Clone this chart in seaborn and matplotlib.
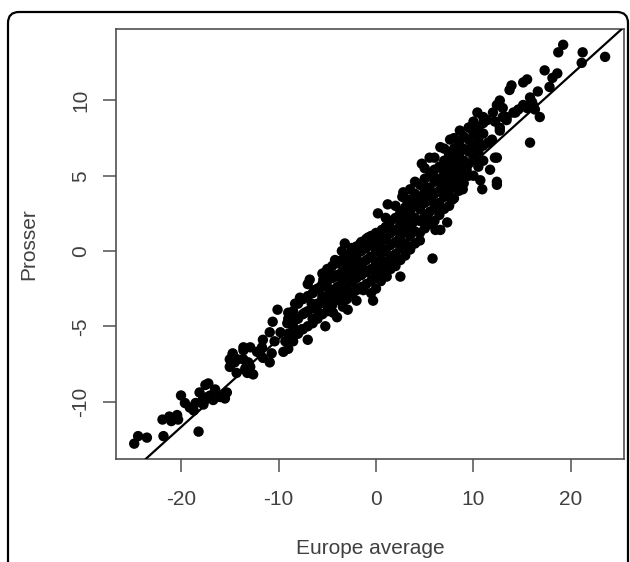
import matplotlib
matplotlib.use("Agg")
import matplotlib.pyplot as plt
import seaborn as sns
import pandas as pd
from matplotlib.patches import FancyBboxPatch
from matplotlib.transforms import IdentityTransform

# ---- data (Europe average, Prosser) ----
tail_low = [(-24.8, -12.8), (-24.4, -12.3), (-23.5, -12.4), (-21.8, -12.3), (-21.9, -11.2),
            (-21.2, -11.0), (-21.0, -11.3), (-20.4, -10.9), (-20.3, -11.2), (-20.0, -9.6),
            (-19.6, -10.1), (-19.1, -10.4), (-18.7, -10.6), (-18.2, -12.0), (-18.1, -9.4),
            (-17.5, -8.9), (-17.2, -8.8), (-17.8, -9.9), (-17.3, -9.7), (-17.7, -10.2),
            (-17.0, -9.6), (-16.5, -9.2), (-16.7, -9.9), (-16.0, -9.7), (-15.5, -9.8),
            (-15.3, -9.4), (-18.5, -10.1), (-15.0, -7.7), (-14.7, -6.9), (-14.2, -7.2),
            (-13.6, -6.6), (-13.4, -7.8), (-13.1, -7.4), (-13.2, -8.1)]

lower_mid = [(-14.7, -6.8), (-14.5, -7.4), (-13.6, -6.4), (-13.6, -7.2), (-13.4, -7.9),
             (-12.9, -7.7), (-12.6, -8.2), (-12.9, -6.4), (-12.2, -6.7), (-11.7, -6.4),
             (-11.6, -7.1), (-10.9, -7.4), (-10.7, -6.8), (-10.4, -6.0), (-10.6, -4.7),
             (-10.1, -3.9), (-9.8, -5.4), (-9.5, -6.7), (-9.3, -6.0), (-9.1, -4.8),
             (-9.0, -4.1), (-8.6, -5.6), (-8.3, -3.5), (-8.1, -4.5), (-7.8, -3.1),
             (-7.6, -5.2), (-7.3, -4.1), (-7.0, -5.9), (-6.8, -1.9), (-6.6, -3.5),
             (-6.5, -4.8), (-6.3, -2.6), (-5.9, -4.1), (-5.5, -3.0), (-5.4, -1.9),
             (-5.2, -5.0), (-4.9, -3.7), (-4.7, -1.5), (-4.4, -2.6), (-4.0, -4.4),
             (-3.9, -0.8), (-3.7, -3.3), (-3.2, -1.9), (-2.9, -3.9), (-2.5, -1.3),
             (-2.4, -2.8), (-2.0, -0.8), (-15.0, -7.2), (-14.3, -8.1), (-10.9, -5.4),
             (-11.6, -5.9)]

center = [(-5.4, -1.5), (-5.0, -2.4), (-4.7, -3.3), (-4.2, -0.6), (-4.0, -1.7),
          (-3.7, -2.6), (-3.2, 0.5), (-3.4, -3.7), (-2.9, -1.1), (-2.5, -0.1),
          (-2.4, -2.1), (-2.0, -3.3), (-1.6, 0.5), (-1.4, -1.1), (-1.3, -2.6),
          (-0.8, 0.9), (-0.6, -0.4), (-0.4, -1.9), (-0.3, -3.3), (0.2, 2.5),
          (0.6, 1.4), (0.7, 0.1), (1.1, -1.7), (1.2, 3.1), (1.4, 1.6),
          (1.7, -0.8), (2.3, 0.7), (2.5, -1.7), (2.7, 3.6), (2.8, 2.3),
          (3.2, 1.4), (3.5, 0.1), (3.8, 3.2), (4.0, 2.1), (4.5, 0.7),
          (4.8, 3.6), (5.2, 1.9), (5.8, -0.5), (6.3, 2.9), (6.6, 1.4),
          (7.1, 3.9), (-5.7, -2.4), (-5.7, -3.5), (-4.4, -4.1)]

upper_mid = [(2.8, 3.9), (3.3, 2.7), (3.5, 4.1), (3.8, 1.9), (4.3, 3.2), (4.7, 5.8),
             (4.8, 4.5), (5.2, 2.3), (5.5, 6.2), (5.7, 3.6), (5.8, 5.2), (6.1, 1.4),
             (6.4, 2.7), (6.6, 6.9), (6.8, 4.3), (7.1, 5.8), (7.3, 1.9), (7.6, 7.4),
             (7.8, 3.4), (8.1, 4.9), (8.4, 6.2), (8.6, 8.0), (8.9, 4.1), (9.3, 5.4),
             (9.6, 8.2), (9.8, 6.9), (10.2, 6.0), (10.5, 7.6), (10.7, 4.7), (10.9, 4.1),
             (11.0, 8.9), (11.5, 7.2), (11.7, 5.4), (12.0, 9.2), (12.2, 6.2), (12.4, 4.6),
             (12.4, 4.4), (12.7, 8.2), (13.4, 8.9), (14.1, 9.2), (10.4, 9.2), (11.4, 8.7),
             (15.8, 7.2)]

tail_high = [(19.2, 13.7), (18.7, 13.2), (21.2, 13.2), (21.1, 12.5), (23.5, 12.9),
             (17.3, 12.0), (18.6, 11.8), (18.1, 11.5), (17.8, 10.9), (15.5, 11.4),
             (15.1, 11.2), (13.9, 11.0), (13.7, 10.7), (16.6, 10.6), (15.8, 10.2),
             (16.0, 9.9), (12.7, 10.0), (12.4, 9.7), (13.0, 9.5), (14.6, 9.4),
             (15.1, 9.7), (15.5, 9.5), (16.1, 9.7), (16.3, 9.4), (16.8, 8.9),
             (13.0, 8.9), (14.3, 9.2), (12.2, 8.6), (13.4, 8.7), (12.7, 8.0),
             (12.4, 6.2), (11.9, 7.4)]

core = [(-9.0, -6.5), (-9.0, -5.5), (-9.0, -4.5), (-8.5, -6.0), (-8.5, -5.0), (-8.5, -4.0),
        (-8.0, -5.5), (-8.0, -4.5), (-8.0, -3.5), (-7.5, -5.2), (-7.5, -4.2), (-7.5, -3.2),
        (-7.0, -5.0), (-7.0, -4.0), (-7.0, -3.0), (-7.0, -2.2), (-6.5, -4.5), (-6.5, -3.8),
        (-6.5, -2.8), (-6.0, -4.5), (-6.0, -3.5), (-6.0, -2.5), (-5.5, -4.2), (-5.5, -3.2),
        (-5.5, -2.2), (-5.5, -1.5), (-5.0, -4.0), (-5.0, -3.0), (-5.0, -2.0), (-5.0, -1.2),
        (-4.5, -3.6), (-4.5, -2.8), (-4.5, -1.8), (-4.5, -1.0), (-4.0, -3.2), (-4.0, -2.4),
        (-4.0, -1.6), (-4.0, -0.8), (-3.5, -3.0), (-3.5, -2.2), (-3.5, -1.4), (-3.5, -0.6),
        (-3.5, 0.0), (-3.0, -3.2), (-3.0, -2.5), (-3.0, -1.8), (-3.0, -1.0), (-3.0, -0.3),
        (-2.5, -2.8), (-2.5, -2.0), (-2.5, -1.5), (-2.5, -0.6), (-2.5, 0.2), (-2.0, -2.6),
        (-2.0, -1.8), (-2.0, -1.2), (-2.0, -0.4), (-2.0, 0.3), (-1.5, -2.4), (-1.5, -1.6),
        (-1.5, -0.8), (-1.5, 0.0), (-1.5, 0.6), (-1.0, -2.2), (-1.0, -1.4), (-1.0, -0.6),
        (-1.0, 0.2), (-1.0, 0.8), (-0.5, -2.8), (-0.5, -2.0), (-0.5, -1.2), (-0.5, -0.4),
        (-0.5, 0.4), (-0.5, 1.0), (0.0, -2.5), (0.0, -1.6), (0.0, -0.8), (0.0, 0.0),
        (0.0, 0.6), (0.0, 1.2), (0.5, -2.0), (0.5, -1.2), (0.5, -0.5), (0.5, 0.3),
        (0.5, 1.0), (1.0, -1.6), (1.0, -0.8), (1.0, 0.0), (1.0, 0.8), (1.0, 1.6),
        (1.0, 2.2), (1.5, -1.2), (1.5, -0.4), (1.5, 0.4), (1.5, 1.2), (1.5, 2.0),
        (2.0, -1.0), (2.0, -0.2), (2.0, 0.6), (2.0, 1.4), (2.0, 2.2), (2.0, 3.0),
        (2.5, -0.6), (2.5, 0.2), (2.5, 1.0), (2.5, 1.8), (2.5, 2.6), (3.0, -0.3),
        (3.0, 0.5), (3.0, 1.3), (3.0, 2.1), (3.0, 2.9), (3.0, 3.5), (3.5, 0.2),
        (3.5, 1.0), (3.5, 1.8), (3.5, 2.6), (3.5, 3.4), (4.0, 0.5), (4.0, 1.3),
        (4.0, 2.2), (4.0, 3.0), (4.0, 3.8), (4.0, 4.6), (4.5, 1.2), (4.5, 2.0),
        (4.5, 2.8), (4.5, 3.6), (4.5, 4.4), (5.0, 1.5), (5.0, 2.4), (5.0, 3.2),
        (5.0, 4.0), (5.0, 4.8), (5.0, 5.5), (5.5, 1.8), (5.5, 2.6), (5.5, 3.4),
        (5.5, 4.2), (5.5, 5.0), (6.0, 2.0), (6.0, 3.0), (6.0, 3.8), (6.0, 4.6),
        (6.0, 5.4), (6.0, 6.2), (6.5, 2.4), (6.5, 3.2), (6.5, 4.0), (6.5, 4.8),
        (6.5, 5.6), (7.0, 2.8), (7.0, 3.6), (7.0, 4.4), (7.0, 5.2), (7.0, 6.0),
        (7.0, 6.8), (7.5, 3.0), (7.5, 4.0), (7.5, 4.8), (7.5, 5.6), (7.5, 6.4),
        (8.0, 3.5), (8.0, 4.4), (8.0, 5.2), (8.0, 6.0), (8.0, 6.8), (8.0, 7.5),
        (8.5, 4.0), (8.5, 4.8), (8.5, 5.6), (8.5, 6.4), (8.5, 7.2), (9.0, 4.5),
        (9.0, 5.2), (9.0, 6.0), (9.0, 6.8), (9.0, 7.6), (9.5, 5.0), (9.5, 5.8),
        (9.5, 6.6), (9.5, 7.4), (9.5, 8.2), (10.0, 5.0), (10.0, 6.2), (10.0, 7.0),
        (10.0, 7.8), (10.0, 8.6), (10.5, 5.6), (10.5, 6.6), (10.5, 7.4), (10.5, 8.2),
        (11.0, 6.0), (11.0, 7.0), (11.0, 7.8), (11.0, 8.5)]

line_intercept = 0.0
line_slope = 0.585
x_ticks = [-20, -10, 0, 10, 20]
y_ticks = [-10, -5, 0, 5, 10]
x_label = "Europe average"
y_label = "Prosser"

# ---- styling ----
sns.set_style("white")
plt.rcParams['font.family'] = ['Liberation Sans', 'DejaVu Sans']
plt.rcParams['axes.unicode_minus'] = False

W, H = 630, 562
fig = plt.figure(figsize=(W / 100, H / 100), dpi=100)
ax = fig.add_axes([116 / W, 103 / H, 508 / W, 430 / H])

pts = pd.DataFrame(tail_low + lower_mid + center + upper_mid + tail_high + core,
                   columns=[x_label, y_label])
sns.scatterplot(data=pts, x=x_label, y=y_label, color='black', s=56,
                edgecolor='none', linewidth=0, ax=ax, zorder=3)

ax.set_xlim(-26.67, 25.44)
ax.set_ylim(-13.82, 14.75)
ax.axline((0, line_intercept), slope=line_slope, color='black', lw=1.6, zorder=4)

grey = '#505050'
for sp in ax.spines.values():
    sp.set_color(grey)
    sp.set_linewidth(1.2)
ax.set_xticks(x_ticks)
ax.set_yticks(y_ticks)
ax.tick_params(axis='both', direction='out', length=9.4, width=1.1, color=grey,
               labelsize=15, labelcolor='#404040')
ax.tick_params(axis='x', pad=13, bottom=True)
ax.tick_params(axis='y', pad=9, left=True, labelrotation=90)
for t in ax.get_yticklabels():
    t.set_va('center')

ax.set_xlabel(x_label, fontsize=15, color='#404040', va='center')
ax.set_ylabel(y_label, fontsize=15, color='#404040', va='center')
ax.xaxis.set_label_coords(0.5, (459 - 549) / 430)
ax.yaxis.set_label_coords((29 - 116) / 508, 0.5)
ax.grid(False)

# rounded outer frame (bottom edge lies outside the image)
frame = FancyBboxPatch((8, -30), 620, H - 12 + 30,
                       boxstyle="round,pad=0,rounding_size=11",
                       transform=IdentityTransform(), fill=False,
                       edgecolor='black', linewidth=1.6, clip_on=False)
fig.add_artist(frame)

fig.savefig("out.png", dpi=100)
